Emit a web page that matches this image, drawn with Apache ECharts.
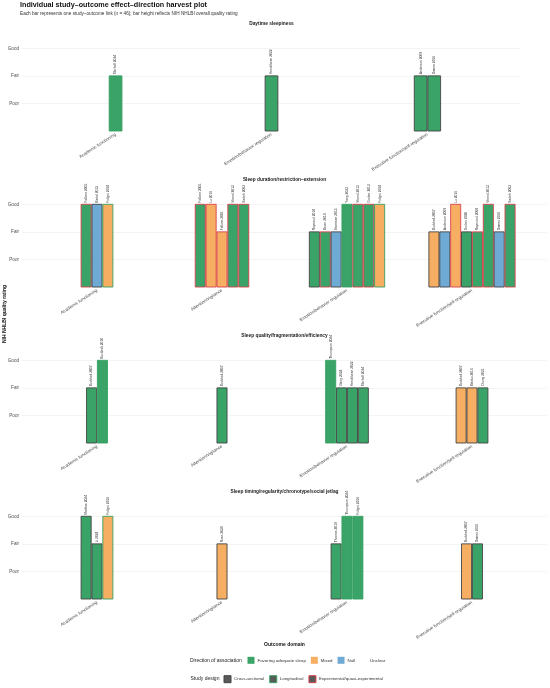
<!DOCTYPE html>
<html>
<head>
<meta charset="utf-8">
<script src="https://cdn.jsdelivr.net/npm/echarts@6/dist/echarts.min.js"></script>
<style>
  html, body { margin: 0; padding: 0; background: #fff; }
  #chart { width: 550px; height: 688px; }
</style>
</head>
<body>
<div id="chart"></div>
<script>
// Ejes y categorías
const panelNames = [
  'Daytime sleepiness',
  'Sleep duration/restriction–extension',
  'Sleep quality/fragmentation/efficiency',
  'Sleep timing/regularity/chronotype/social jetlag'
];
const domainNames = [
  'Academic functioning',
  'Attention/vigilance',
  'Emotion/behavior regulation',
  'Executive function/self-regulation'
];
// qué dominios aparecen en cada panel (escala x libre)
const panelDomains = [[0, 2, 3], [0, 1, 2, 3], [0, 1, 2, 3], [0, 1, 2, 3]];
const ratingLevels = ['Poor', 'Fair', 'Good'];
const directionNames = ['Favoring adequate sleep', 'Mixed', 'Null', 'Unclear'];
const designNames = ['Cross-sectional', 'Longitudinal', 'Experimental/quasi-experimental'];

// Un elemento por vínculo estudio–resultado (n = 46)
const linkStudy = [
  'Mitchell 2024', 'Hendriksen 2022', 'Anderson 2009', 'Owens 2016',
  'Fallone 2005', 'Bartel 2015', 'Fuligni 2018',
  'Fallone 2005', 'Lo 2016', 'Fallone 2001', 'Vriend 2013', 'Sadeh 2003',
  'Reynaud 2018', 'Baum 2014', 'Sivertsen 2015', 'Yang 2023', 'Vriend 2013', 'Gruber 2012', 'Fuligni 2018',
  'Buckhalt 2007', 'Anderson 2009', 'Lo 2016', 'Gruber 2020', 'Raymond 2008', 'Vriend 2013', 'Owens 2016', 'Sadeh 2003',
  'Buckhalt 2007', 'Buckhalt 2010', 'Buckhalt 2007',
  'Thompson 2024', 'Wang 2024', 'Hendriksen 2022', 'Mitchell 2024',
  'Buckhalt 2007', 'Blasko 2016', 'Chong 2021',
  'Mathias 2024', 'Li 2024', 'Fuligni 2016', 'Rose 2024',
  'Thomas 2019', 'Thompson 2024', 'Fuligni 2016', 'Buckhalt 2007', 'Owens 2016'
];
const linkPanel = [
  0, 0, 0, 0,
  1, 1, 1,
  1, 1, 1, 1, 1,
  1, 1, 1, 1, 1, 1, 1,
  1, 1, 1, 1, 1, 1, 1, 1,
  2, 2, 2,
  2, 2, 2, 2,
  2, 2, 2,
  3, 3, 3, 3,
  3, 3, 3, 3, 3
];
const linkDomain = [
  0, 2, 3, 3,
  0, 0, 0,
  1, 1, 1, 1, 1,
  2, 2, 2, 2, 2, 2, 2,
  3, 3, 3, 3, 3, 3, 3, 3,
  0, 0, 1,
  2, 2, 2, 2,
  3, 3, 3,
  0, 0, 0, 1,
  2, 2, 2, 3, 3
];
const linkRating = [
  'Fair', 'Fair', 'Fair', 'Fair',
  'Good', 'Good', 'Good',
  'Good', 'Good', 'Fair', 'Good', 'Good',
  'Fair', 'Fair', 'Fair', 'Good', 'Good', 'Good', 'Good',
  'Fair', 'Fair', 'Good', 'Fair', 'Fair', 'Good', 'Fair', 'Good',
  'Fair', 'Good', 'Fair',
  'Good', 'Fair', 'Fair', 'Fair',
  'Fair', 'Fair', 'Fair',
  'Good', 'Fair', 'Good', 'Fair',
  'Fair', 'Good', 'Good', 'Fair', 'Fair'
];
// 0 favorable, 1 mixto, 2 nulo, 3 poco claro
const linkDirection = [
  0, 0, 0, 0,
  0, 2, 1,
  0, 1, 1, 0, 0,
  0, 0, 2, 0, 0, 0, 1,
  1, 2, 1, 0, 0, 0, 2, 0,
  0, 0, 0,
  0, 0, 0, 0,
  1, 1, 0,
  0, 0, 1, 1,
  0, 0, 0, 1, 0
];
// 0 transversal, 1 longitudinal, 2 experimental
const linkDesign = [
  1, 0, 0, 0,
  2, 0, 1,
  2, 2, 2, 2, 2,
  0, 2, 0, 1, 2, 2, 1,
  0, 0, 2, 0, 2, 2, 0, 2,
  0, 1, 0,
  1, 0, 0, 0,
  0, 0, 0,
  0, 0, 1, 0,
  0, 1, 1, 0, 0
];

const directionColors = ['#3aa468', '#f6ae63', '#6eaad4', '#ffffff'];
const designColors = ['#444444', '#37a060', '#d8414d'];
const FONT = '"Liberation Sans", Arial, sans-serif';
const BAR_W = 0.087;

const gridTops = [29, 185, 341, 497];
const gridRights = [29, 3, 3, 3];
const GRID_H = 102;

// posición x de cada barra: esquivado dentro de cada dominio
function panelData(p) {
  const out = [];
  panelDomains[p].forEach((d, slot) => {
    const idx = [];
    linkPanel.forEach((lp, i) => { if (lp === p && linkDomain[i] === d) idx.push(i); });
    idx.forEach((i, j) => {
      const x = slot + (j - (idx.length - 1) / 2) * BAR_W;
      out.push([x, ratingLevels.indexOf(linkRating[i]) + 1, i]);
    });
  });
  return out;
}

function renderBar(params, api) {
  const x = api.value(0);
  const v = api.value(1);
  const i = api.value(2);
  const top = api.coord([x, v]);
  const base = api.coord([x, 0]);
  const w = api.size([BAR_W, 0])[0];
  return {
    type: 'group',
    children: [
      {
        type: 'rect',
        shape: { x: top[0] - w / 2 + 0.4, y: top[1], width: w - 0.8, height: base[1] - top[1] },
        style: { fill: directionColors[linkDirection[i]], stroke: designColors[linkDesign[i]], lineWidth: 0.9 }
      },
      {
        type: 'text',
        x: top[0],
        y: top[1] - 1.5,
        rotation: Math.PI / 2,
        style: {
          text: linkStudy[i], fontSize: 3.3, fontFamily: FONT, fill: '#333',
          align: 'left', verticalAlign: 'middle'
        }
      }
    ]
  };
}

const grids = [], xAxes = [], yAxes = [], series = [], titles = [];

titles.push({
  text: 'Individual study–outcome effect–direction harvest plot',
  left: 20, top: 2, padding: 0,
  textStyle: { fontSize: 7.2, fontWeight: 'bold', color: '#111', fontFamily: FONT }
});
titles.push({
  text: 'Each bar represents one study–outcome link (n = 46); bar height reflects NIH NHLBI overall quality rating',
  left: 20, top: 11.5, padding: 0,
  textStyle: { fontSize: 4.7, fontWeight: 'normal', color: '#333', fontFamily: FONT }
});

panelNames.forEach((name, p) => {
  const n = panelDomains[p].length;
  grids.push({ left: 22, right: gridRights[p], top: gridTops[p], height: GRID_H, containLabel: false });
  const center = (22 + (550 - gridRights[p])) / 2;
  titles.push({
    text: name, left: center, top: gridTops[p] - 7.5, textAlign: 'center', padding: 0,
    textStyle: { fontSize: 4.8, fontWeight: 'bold', color: '#1a1a1a', fontFamily: FONT }
  });
  xAxes.push({
    type: 'value', gridIndex: p, min: -0.6, max: n - 0.4,
    axisLine: { show: false }, axisTick: { show: false }, splitLine: { show: false },
    axisLabel: {
      customValues: panelDomains[p].map((d, k) => k),
      formatter: (v) => domainNames[panelDomains[p][Math.round(v)]] || '',
      rotate: 33, fontSize: 4.5, color: '#4d4d4d', margin: 3, fontFamily: FONT
    }
  });
  yAxes.push({
    type: 'value', gridIndex: p, min: 0, max: 3.7, interval: 1,
    axisLine: { show: false }, axisTick: { show: false },
    axisLabel: {
      formatter: (v) => ratingLevels[v - 1] || '',
      fontSize: 4.6, color: '#4d4d4d', margin: 3, fontFamily: FONT
    },
    splitLine: {
      lineStyle: { color: ['rgba(0,0,0,0)', '#ececec', '#ececec', '#ececec', 'rgba(0,0,0,0)'], width: 0.6 }
    }
  });
  series.push({
    type: 'custom', name: name, xAxisIndex: p, yAxisIndex: p,
    renderItem: renderBar, encode: { x: 0, y: 1 }, silent: true,
    data: panelData(p)
  });
});

// series vacías, solo para las leyendas
directionNames.forEach((d, k) => {
  series.push({
    type: 'custom', name: d, xAxisIndex: 0, yAxisIndex: 0, data: [],
    renderItem: () => null,
    itemStyle: { color: directionColors[k], borderWidth: 0 }
  });
});
designNames.forEach((d, k) => {
  series.push({
    type: 'custom', name: d, xAxisIndex: 0, yAxisIndex: 0, data: [],
    renderItem: () => null,
    itemStyle: { color: '#595959', borderColor: designColors[k], borderWidth: 1 }
  });
});

const chart = echarts.init(document.getElementById('chart'), null, { renderer: 'canvas' });
chart.setOption({
  animation: false,
  backgroundColor: '#ffffff',
  title: titles,
  grid: grids,
  xAxis: xAxes,
  yAxis: yAxes,
  series: series,
  legend: [
    {
      data: directionNames, left: 247.5, top: 656.8, orient: 'horizontal', padding: 0,
      itemWidth: 7, itemHeight: 7, itemGap: 5, selectedMode: false,
      icon: 'rect',
      itemStyle: { borderWidth: 0 },
      textStyle: { fontSize: 4.4, color: '#333', fontFamily: FONT, padding: [0, 0, 0, -2] }
    },
    {
      data: designNames, left: 223.5, top: 675.2, orient: 'horizontal', padding: 0,
      itemWidth: 7, itemHeight: 7, itemGap: 5, selectedMode: false,
      icon: 'rect',
      itemStyle: { borderWidth: 1 },
      textStyle: { fontSize: 4.4, color: '#333', fontFamily: FONT, padding: [0, 0, 0, -2] }
    }
  ],
  graphic: [
    {
      type: 'text', x: 5, y: 314, rotation: Math.PI / 2,
      style: { text: 'NIH NHLBI quality rating', fontSize: 5, fontWeight: 'bold', fill: '#111',
        fontFamily: FONT, align: 'center', verticalAlign: 'middle' }
    },
    {
      type: 'text', x: 284.5, y: 645,
      style: { text: 'Outcome domain', fontSize: 5, fontWeight: 'bold', fill: '#111',
        fontFamily: FONT, align: 'center', verticalAlign: 'middle' }
    },
    {
      type: 'text', x: 190, y: 660.3,
      style: { text: 'Direction of association', fontSize: 5, fill: '#222',
        fontFamily: FONT, align: 'left', verticalAlign: 'middle' }
    },
    {
      type: 'text', x: 190.5, y: 678.7,
      style: { text: 'Study design', fontSize: 5, fill: '#222',
        fontFamily: FONT, align: 'left', verticalAlign: 'middle' }
    }
  ]
});
</script>
</body>
</html>
